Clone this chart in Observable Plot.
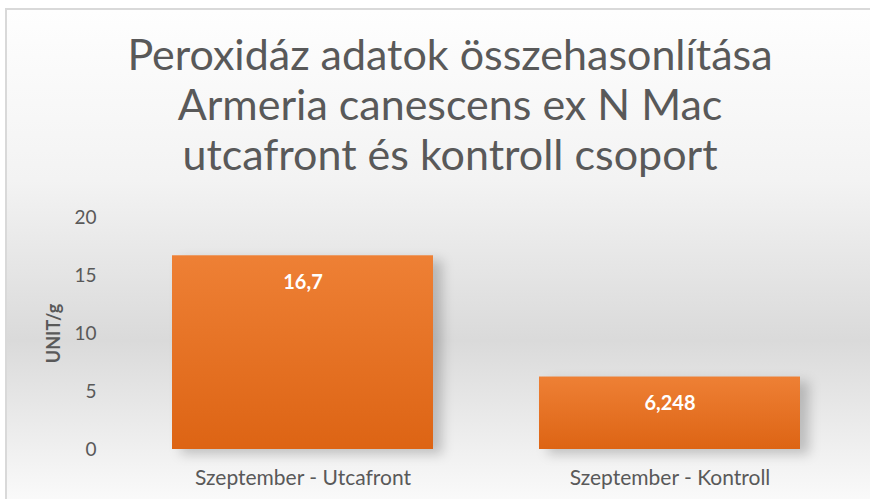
<!DOCTYPE html>
<html>
<head>
<meta charset="utf-8">
<script src="https://cdn.jsdelivr.net/npm/d3@7"></script>
<script src="https://cdn.jsdelivr.net/npm/@observablehq/plot@0.6"></script>
<style>
  html, body { margin: 0; padding: 0; width: 870px; height: 499px; overflow: hidden; background: #fff; }
  #frame {
    position: absolute; left: 5px; top: 8px; width: 900px; height: 520px;
    border-left: 2px solid #d9d9d9; border-top: 2px solid #d9d9d9;
    background: linear-gradient(to bottom, #fefefe 0px, #f3f3f3 170px, #dadada 330px, #f0f0f0 440px, #fafafa 491px);
  }
  #title {
    position: absolute; left: 0; top: 29px; width: 900px; text-align: center;
    font-family: Lato, sans-serif; font-size: 43px; line-height: 50px; color: #595959;
  }
  #chart { position: absolute; left: 0; top: 0; }
  #chart g[aria-label="bar"] rect { filter: drop-shadow(9px 5px 6px rgba(0,0,0,0.2)); }
</style>
</head>
<body>
<div id="frame"></div>
<div id="title">Peroxidáz adatok összehasonlítása<br>Armeria canescens ex N Mac<br>utcafront és kontroll csoport</div>
<div id="chart"></div>
<script>
const categories = ["Szeptember - Utcafront", "Szeptember - Kontroll"];
const values = [16.7, 6.248];
const yTicks = [0, 5, 10, 15, 20];
const yLabel = "UNIT/g";

const data = categories.map((c, i) => ({ cat: c, value: values[i], label: String(values[i]).replace(".", ",") }));

const gradientDefs = () => {
  const ns = "http://www.w3.org/2000/svg";
  const defs = document.createElementNS(ns, "defs");
  const lg = document.createElementNS(ns, "linearGradient");
  lg.setAttribute("id", "barGrad");
  lg.setAttribute("x1", "0"); lg.setAttribute("y1", "0");
  lg.setAttribute("x2", "0"); lg.setAttribute("y2", "1");
  [["0%", "#ee8035"], ["100%", "#dd6414"]].forEach(([o, c]) => {
    const s = document.createElementNS(ns, "stop");
    s.setAttribute("offset", o); s.setAttribute("stop-color", c);
    lg.appendChild(s);
  });
  defs.appendChild(lg);
  return defs;
};

const chart = Plot.plot({
  width: 870,
  height: 499,
  marginTop: 217,
  marginBottom: 50,
  marginLeft: 105,
  marginRight: 4,
  style: { background: "transparent", fontFamily: "Lato, sans-serif", color: "#595959" },
  x: { domain: categories, paddingInner: 0.29, paddingOuter: 0.18, label: null },
  y: { domain: [0, 20], label: null },
  marks: [
    gradientDefs,
    Plot.barY(data, { x: "cat", y: "value", fill: "url(#barGrad)" }),
    Plot.text(data, { x: "cat", y: "value", text: "label", dy: 27, fill: "white", fontWeight: "bold", fontSize: 20 }),
    Plot.axisY({ ticks: yTicks, tickSize: 0, tickPadding: 9, fontSize: 19, label: null, fill: "#595959" }),
    Plot.axisY({ ticks: [], label: yLabel, labelAnchor: "center", labelArrow: "none", labelOffset: 58, fontSize: 18, fontWeight: "bold", fill: "#595959" }),
    Plot.axisX({ tickSize: 0, tickPadding: 21, fontSize: 21, label: null, fill: "#595959" })
  ]
});
document.getElementById("chart").appendChild(chart);
</script>
</body>
</html>
